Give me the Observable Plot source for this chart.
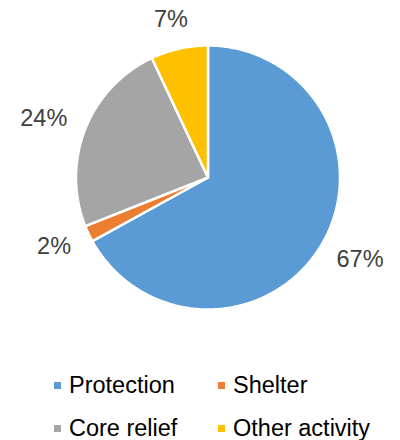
<!DOCTYPE html>
<html>
<head>
<meta charset="utf-8">
<script src="https://cdn.jsdelivr.net/npm/d3@7"></script>
<script src="https://cdn.jsdelivr.net/npm/@observablehq/plot@0.6"></script>
<style>
  html, body { margin: 0; padding: 0; background: #fff; }
  body { width: 400px; height: 440px; overflow: hidden; font-family: "Liberation Sans", Arial, sans-serif; }
  #legend { display: grid; grid-template-columns: 164px 160px; padding-left: 54px; padding-top: 14px; }
  .item { display: flex; align-items: center; height: 43px; font-size: 23.5px; color: #000; white-space: nowrap; }
  .sw { width: 7px; height: 7px; margin-right: 8px; flex: none; }
</style>
</head>
<body>
<div id="chart"></div>
<div id="legend"></div>
<script>
const categories = ["Protection", "Shelter", "Core relief", "Other activity"];
const values = [67, 2, 24, 7];
const colors = ["#5B9BD5", "#ED7D31", "#A5A5A5", "#FFC000"];

const W = 400, H = 350, R = 132, cx = 207.5, cy = 177;
const labelSize = 23.5;

const arcs = d3.pie().sort(null).value(d => d.value)(
  categories.map((c, i) => ({category: c, value: values[i]}))
);

// wedge outlines in unit-radius coordinates (y up)
const pts = [];
for (const a of arcs) {
  const c = a.data.category;
  pts.push({category: c, x: 0, y: 0});
  const n = Math.max(2, Math.ceil((a.endAngle - a.startAngle) / (Math.PI / 180)));
  for (let k = 0; k <= n; k++) {
    const t = a.startAngle + (a.endAngle - a.startAngle) * k / n;
    pts.push({category: c, x: Math.sin(t), y: Math.cos(t)});
  }
}

// outside-end labels: anchor just beyond the rim, pushed out by half the label box
const anchorR = 1.16;
const labels = arcs.map(a => {
  const m = (a.startAngle + a.endAngle) / 2;
  const text = a.data.value + "%";
  const hw = ((text.length - 1) * 0.556 + 0.889) * labelSize / 2 / R;
  const hh = 0.36 * labelSize / R;
  return {
    category: a.data.category,
    text,
    x: (anchorR + hw) * Math.sin(m),
    y: (anchorR + hh) * Math.cos(m)
  };
});

const chart = Plot.plot({
  width: W,
  height: H,
  margin: 0,
  x: {domain: [-cx / R, (W - cx) / R], axis: null},
  y: {domain: [-(H - cy) / R, cy / R], axis: null},
  color: {domain: categories, range: colors},
  style: {fontFamily: '"Liberation Sans", Arial, sans-serif', background: "#fff"},
  marks: [
    Plot.line(pts, {x: "x", y: "y", z: "category", fill: "category", stroke: "white", strokeWidth: 2.5, strokeLinejoin: "miter", curve: "linear-closed"}),
    Plot.text(labels, {x: "x", y: "y", text: "text", fontSize: labelSize, fill: "#404040"})
  ]
});
document.getElementById("chart").appendChild(chart);

const legend = document.getElementById("legend");
categories.forEach((c, i) => {
  const item = document.createElement("div");
  item.className = "item";
  const sw = document.createElement("span");
  sw.className = "sw";
  sw.style.background = colors[i];
  const tx = document.createElement("span");
  tx.textContent = c;
  item.appendChild(sw);
  item.appendChild(tx);
  legend.appendChild(item);
});
</script>
</body>
</html>
